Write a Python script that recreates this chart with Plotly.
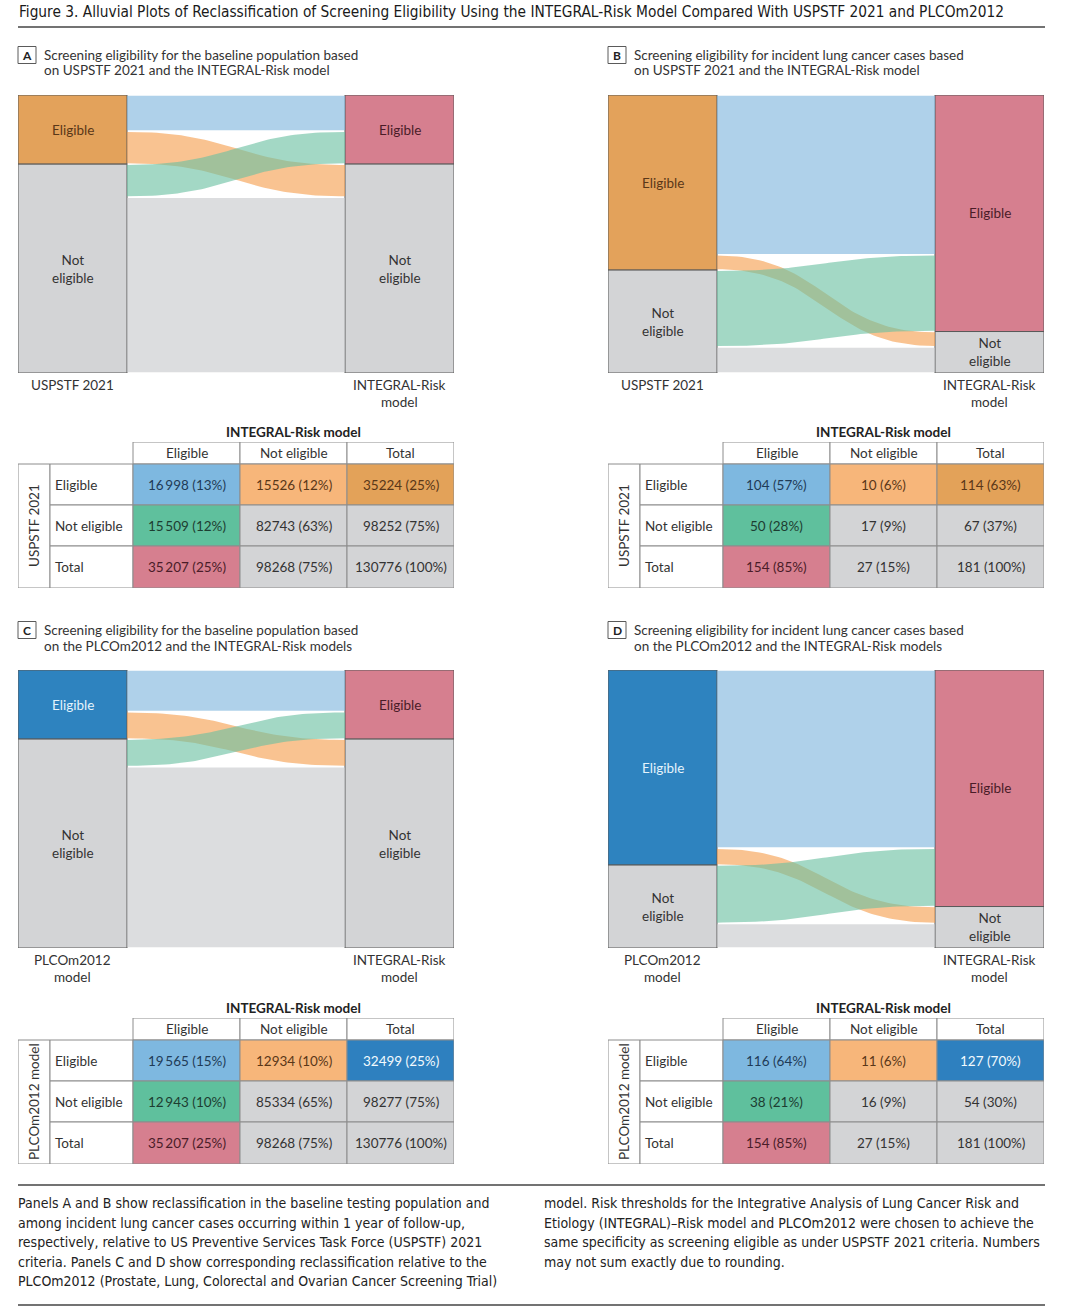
import plotly.graph_objects as go

W, H = 1070, 1315

# ---------------- data ----------------
row_labels = ["Eligible", "Not eligible", "Total"]
col_labels = ["Eligible", "Not eligible", "Total"]
node_labels = ["Eligible", "Not<br>eligible"]

# flows: [Elig->Elig, Elig->Not, Not->Elig, Not->Not]  (reference criterion -> INTEGRAL-Risk)
flows_A = [16998, 15526, 15509, 82743]
flows_B = [104, 10, 50, 17]
flows_C = [19565, 12934, 12943, 85334]
flows_D = [116, 11, 38, 16]

# table values as printed (rows: Eligible, Not eligible, Total; cols: Eligible, Not eligible, Total)
counts_A = [[16998, 15526, 35224], [15509, 82743, 98252], [35207, 98268, 130776]]
pcts_A = [[13, 12, 25], [12, 63, 75], [25, 75, 100]]
counts_B = [[104, 10, 114], [50, 17, 67], [154, 27, 181]]
pcts_B = [[57, 6, 63], [28, 9, 37], [85, 15, 100]]
counts_C = [[19565, 12934, 32499], [12943, 85334, 98277], [35207, 98268, 130776]]
pcts_C = [[15, 10, 25], [10, 65, 75], [25, 75, 100]]
counts_D = [[116, 11, 127], [38, 16, 54], [154, 27, 181]]
pcts_D = [[64, 6, 70], [21, 9, 30], [85, 15, 100]]

title_text = ("Figure 3. Alluvial Plots of Reclassification of Screening Eligibility Using the "
              "INTEGRAL-Risk Model Compared With USPSTF 2021 and PLCOm2012")
panel_titles = {
    "A": ["Screening eligibility for the baseline population based",
          "on USPSTF 2021 and the INTEGRAL-Risk model"],
    "B": ["Screening eligibility for incident lung cancer cases based",
          "on USPSTF 2021 and the INTEGRAL-Risk model"],
    "C": ["Screening eligibility for the baseline population based",
          "on the PLCOm2012 and the INTEGRAL-Risk models"],
    "D": ["Screening eligibility for incident lung cancer cases based",
          "on the PLCOm2012 and the INTEGRAL-Risk models"],
}
caption_left = [
    "Panels A and B show reclassification in the baseline testing population and",
    "among incident lung cancer cases occurring within 1 year of follow-up,",
    "respectively, relative to US Preventive Services Task Force (USPSTF) 2021",
    "criteria. Panels C and D show corresponding reclassification relative to the",
    "PLCOm2012 (Prostate, Lung, Colorectal and Ovarian Cancer Screening Trial)",
]
caption_right = [
    "model. Risk thresholds for the Integrative Analysis of Lung Cancer Risk and",
    "Etiology (INTEGRAL)\u2013Risk model and PLCOm2012 were chosen to achieve the",
    "same specificity as screening eligible as under USPSTF 2021 criteria. Numbers",
    "may not sum exactly due to rounding.",
]

# ---------------- style ----------------
FONT = "Lato, 'Open Sans', sans-serif"
NARROW = "'Liberation Sans Narrow', 'DejaVu Sans Condensed', sans-serif"
FS = 13.5
TXT = "#333333"
BORDER = "#5a5a5a"
CELL_LINE = "#8c8c8c"

FLOW_ALPHA = 0.62
FLOW_BLUE = f"rgba(126,181,221,{FLOW_ALPHA})"
FLOW_ORANGE = f"rgba(245,158,78,{FLOW_ALPHA})"
FLOW_GREEN = f"rgba(107,192,162,{FLOW_ALPHA})"
FLOW_GRAY = f"rgba(199,200,203,{FLOW_ALPHA})"

BOX_ORANGE = "#E3A25B"
BOX_GRAY = "#D3D4D6"
BOX_PINK = "#D67F8F"
BOX_BLUE = "#2E83BF"

CELL_LBLUE = "#7EB8E0"
CELL_LORANGE = "#F7B67A"
CELL_GREEN = "#5FC09D"
CELL_PINK = "#D67F8F"
CELL_GRAY = "#D3D4D6"
CELL_ORANGE = "#E3A259"
CELL_DBLUE = "#2E80BF"

TXT_BROWN = "#5a3718"
TXT_MAROON = "#4a1c28"
TXT_NAVY = "#1f3b57"
TXT_DGREEN = "#1d3d31"
TXT_LIGHT = "#e4f4fc"


def px2x(px):
    return px / W


def px2y(py):
    return 1 - py / H


def paper_text(xp, yp, text, size=FS, color=TXT, family=FONT, xanchor="center", **kw):
    return dict(x=px2x(xp), y=px2y(yp), xref="paper", yref="paper", text=text, showarrow=False,
                xanchor=xanchor, yanchor="middle", font=dict(family=family, size=size, color=color), **kw)


panels = [
    dict(key="A", flows=flows_A, counts=counts_A, pcts=pcts_A, x0=18, hy=55, ay=95, ty=442,
         left_name=["USPSTF 2021"], vlabel="USPSTF 2021",
         left_color=BOX_ORANGE, left_txt=TXT_BROWN, tot_color=CELL_ORANGE, tot_txt=TXT_BROWN),
    dict(key="B", flows=flows_B, counts=counts_B, pcts=pcts_B, x0=608, hy=55, ay=95, ty=442,
         left_name=["USPSTF 2021"], vlabel="USPSTF 2021",
         left_color=BOX_ORANGE, left_txt=TXT_BROWN, tot_color=CELL_ORANGE, tot_txt=TXT_BROWN),
    dict(key="C", flows=flows_C, counts=counts_C, pcts=pcts_C, x0=18, hy=630, ay=670, ty=1018,
         left_name=["PLCOm2012", "model"], vlabel="PLCOm2012 model",
         left_color=BOX_BLUE, left_txt=TXT_LIGHT, tot_color=CELL_DBLUE, tot_txt="#f2fafe"),
    dict(key="D", flows=flows_D, counts=counts_D, pcts=pcts_D, x0=608, hy=630, ay=670, ty=1018,
         left_name=["PLCOm2012", "model"], vlabel="PLCOm2012 model",
         left_color=BOX_BLUE, left_txt=TXT_LIGHT, tot_color=CELL_DBLUE, tot_txt="#f2fafe"),
]

PW = 436      # panel width (px)
AH = 278      # alluvial height (px)
COL_EDGES = [0, 32, 115, 222, 329, 436]
ROW_EDGES = [0, 22, 63, 104, 146]

fig = go.Figure()
ann = []
shapes = []
lay = {}


def bez(a, b, n=60):
    xs, ys = [], []
    for k in range(n + 1):
        t = k / n
        u = 1 - t
        xs.append(u**3 * 1 + 3 * u * u * t * 2 + 3 * u * t * t * 2 + t**3 * 3)
        ys.append(u**3 * a + 3 * u * u * t * a + 3 * u * t * t * b + t**3 * b)
    return xs, ys


for i, p in enumerate(panels):
    ia = i + 1
    it = i + 5
    xa, ya = f"x{ia}", f"y{ia}"
    xt, yt = f"x{it}", f"y{it}"
    x0 = p["x0"]
    ee, en, ne, nn = p["flows"]
    total = ee + en + ne + nn

    # ---------- axes ----------
    hidden = dict(visible=False, showgrid=False, zeroline=False, fixedrange=True)
    lay[f"xaxis{ia}"] = dict(domain=[px2x(x0), px2x(x0 + PW)], range=[0, 4], anchor=ya, **hidden)
    lay[f"yaxis{ia}"] = dict(domain=[px2y(p["ay"] + AH), px2y(p["ay"])], range=[total, 0], anchor=xa, **hidden)
    lay[f"xaxis{it}"] = dict(domain=[px2x(x0), px2x(x0 + PW)], range=[0, PW], anchor=yt, **hidden)
    lay[f"yaxis{it}"] = dict(domain=[px2y(p["ty"] + ROW_EDGES[-1]), px2y(p["ty"])],
                             range=[ROW_EDGES[-1], 0], anchor=xt, **hidden)

    # ---------- flows ----------
    gap = 0.8 * total / AH
    lstart = [0, ee, ee + en, ee + en + ne]
    rstart = [0, ee + ne, ee, ee + ne + en]
    fcolors = [FLOW_BLUE, FLOW_ORANGE, FLOW_GREEN, FLOW_GRAY]
    order = [3, 0, 1, 2]
    for k in order:
        v = p["flows"][k]
        tx, ty_ = bez(lstart[k] + gap, rstart[k] + gap)
        bx, by = bez(lstart[k] + v - gap, rstart[k] + v - gap)
        xs = tx + bx[::-1]
        ys = ty_ + by[::-1]
        fig.add_trace(go.Scatter(x=xs, y=ys, mode="lines", fill="toself", fillcolor=fcolors[k],
                                 line=dict(width=0), hoverinfo="skip", showlegend=False,
                                 xaxis=xa, yaxis=ya))

    # ---------- node boxes ----------
    lE, lN = ee + en, ne + nn
    rE, rN = ee + ne, en + nn
    fig.add_trace(go.Bar(x=[0.5, 0.5, 3.5, 3.5], y=[lE, lN, rE, rN], base=[0, lE, 0, rE],
                         width=[1, 1, 1, 1],
                         marker=dict(color=[p["left_color"], BOX_GRAY, BOX_PINK, BOX_GRAY],
                                     line=dict(color=BORDER, width=1)),
                         hoverinfo="skip", showlegend=False, xaxis=xa, yaxis=ya))
    for (xc, yc, txt, col) in [(0.5, lE / 2, node_labels[0], p["left_txt"]),
                               (0.5, lE + lN / 2, node_labels[1], TXT),
                               (3.5, rE / 2, node_labels[0], TXT_MAROON),
                               (3.5, rE + rN / 2, node_labels[1], TXT)]:
        ann.append(dict(x=xc, y=yc, xref=xa, yref=ya, text=txt, showarrow=False,
                        xanchor="center", yanchor="middle",
                        font=dict(family=FONT, size=FS, color=col), align="center"))

    # ---------- axis labels under boxes ----------
    yb = p["ay"] + AH + 12
    for j, t in enumerate(p["left_name"]):
        ann.append(paper_text(x0 + 54.5, yb + 17 * j, t))
    for j, t in enumerate(["INTEGRAL-Risk", "model"]):
        ann.append(paper_text(x0 + PW - 54.5, yb + 17 * j, t))

    # ---------- panel header ----------
    shapes.append(dict(type="rect", xref="paper", yref="paper",
                       x0=px2x(x0), x1=px2x(x0 + 18), y0=px2y(p["hy"] - 8.5), y1=px2y(p["hy"] + 8.5),
                       line=dict(color=BORDER, width=1), fillcolor="white"))
    ann.append(paper_text(x0 + 9, p["hy"], f"<b>{p['key']}</b>", size=12, color="#222"))
    for j, t in enumerate(panel_titles[p["key"]]):
        ann.append(paper_text(x0 + 24, p["hy"] + 15.5 * j, t, xanchor="left"))

    # ---------- table ----------
    cE, rEd = COL_EDGES, ROW_EDGES
    ann.append(paper_text(x0 + (cE[2] + cE[5]) / 2, p["ty"] - 10, "<b>INTEGRAL-Risk model</b>",
                          color="#222"))
    for j in range(3):
        shapes.append(dict(type="rect", xref=xt, yref=yt, x0=cE[2 + j], x1=cE[3 + j], y0=rEd[0], y1=rEd[1],
                           line=dict(color=CELL_LINE, width=1), fillcolor="white"))
        ann.append(dict(x=(cE[2 + j] + cE[3 + j]) / 2, y=(rEd[0] + rEd[1]) / 2, xref=xt, yref=yt,
                        text=col_labels[j], showarrow=False, xanchor="center", yanchor="middle",
                        font=dict(family=FONT, size=FS, color=TXT)))
    shapes.append(dict(type="rect", xref=xt, yref=yt, x0=cE[0], x1=cE[1], y0=rEd[1], y1=rEd[4],
                       line=dict(color=CELL_LINE, width=1), fillcolor="white"))
    ann.append(dict(x=(cE[0] + cE[1]) / 2, y=(rEd[1] + rEd[4]) / 2, xref=xt, yref=yt, text=p["vlabel"],
                    textangle=-90, showarrow=False, xanchor="center", yanchor="middle",
                    font=dict(family=FONT, size=FS, color=TXT)))
    cell_colors = [[CELL_LBLUE, CELL_LORANGE, p["tot_color"]],
                   [CELL_GREEN, CELL_GRAY, CELL_GRAY],
                   [CELL_PINK, CELL_GRAY, CELL_GRAY]]
    cell_txt = [[TXT_NAVY, TXT_BROWN, p["tot_txt"]],
                [TXT_DGREEN, TXT, TXT],
                [TXT_MAROON, TXT, TXT]]
    for r in range(3):
        shapes.append(dict(type="rect", xref=xt, yref=yt, x0=cE[1], x1=cE[2], y0=rEd[1 + r], y1=rEd[2 + r],
                           line=dict(color=CELL_LINE, width=1), fillcolor="white"))
        ann.append(dict(x=cE[1] + 3, y=(rEd[1 + r] + rEd[2 + r]) / 2, xref=xt, yref=yt, text=row_labels[r],
                        xanchor="left", yanchor="middle", showarrow=False,
                        font=dict(family=FONT, size=FS, color=TXT)))
        for j in range(3):
            c = p["counts"][r][j]
            num = f"{c:,}".replace(",", "\u2009") if j == 0 else str(c)
            shapes.append(dict(type="rect", xref=xt, yref=yt, x0=cE[2 + j], x1=cE[3 + j],
                               y0=rEd[1 + r], y1=rEd[2 + r],
                               line=dict(color=CELL_LINE, width=1), fillcolor=cell_colors[r][j]))
            ann.append(dict(x=(cE[2 + j] + cE[3 + j]) / 2, y=(rEd[1 + r] + rEd[2 + r]) / 2, xref=xt, yref=yt,
                            text=f"{num} ({p['pcts'][r][j]}%)", showarrow=False,
                            xanchor="center", yanchor="middle",
                            font=dict(family=FONT, size=FS, color=cell_txt[r][j])))
    # invisible anchor trace for table axes
    fig.add_trace(go.Scatter(x=[0], y=[0], mode="markers", marker=dict(opacity=0), hoverinfo="skip",
                             showlegend=False, xaxis=xt, yaxis=yt))

# ---------- title & caption ----------
ann.append(paper_text(17, 12, title_text, size=15.3, color="#1a1a1a", family=NARROW, xanchor="left"))
for yl in (27, 1185, 1305):
    shapes.append(dict(type="line", xref="paper", yref="paper", x0=px2x(18), x1=px2x(1045),
                       y0=px2y(yl), y1=px2y(yl), line=dict(color="#444", width=1.5)))
for j, t in enumerate(caption_left):
    ann.append(paper_text(16, 1203 + 19.5 * j, t, size=14, color="#222", family=NARROW, xanchor="left"))
for j, t in enumerate(caption_right):
    ann.append(paper_text(542, 1203 + 19.5 * j, t, size=14, color="#222", family=NARROW, xanchor="left"))

fig.update_layout(width=W, height=H, margin=dict(l=0, r=0, t=0, b=0), paper_bgcolor="white",
                  plot_bgcolor="rgba(0,0,0,0)", barmode="overlay", showlegend=False,
                  annotations=ann, shapes=shapes, **lay)
fig.write_html("out.html", config={"displayModeBar": False})
